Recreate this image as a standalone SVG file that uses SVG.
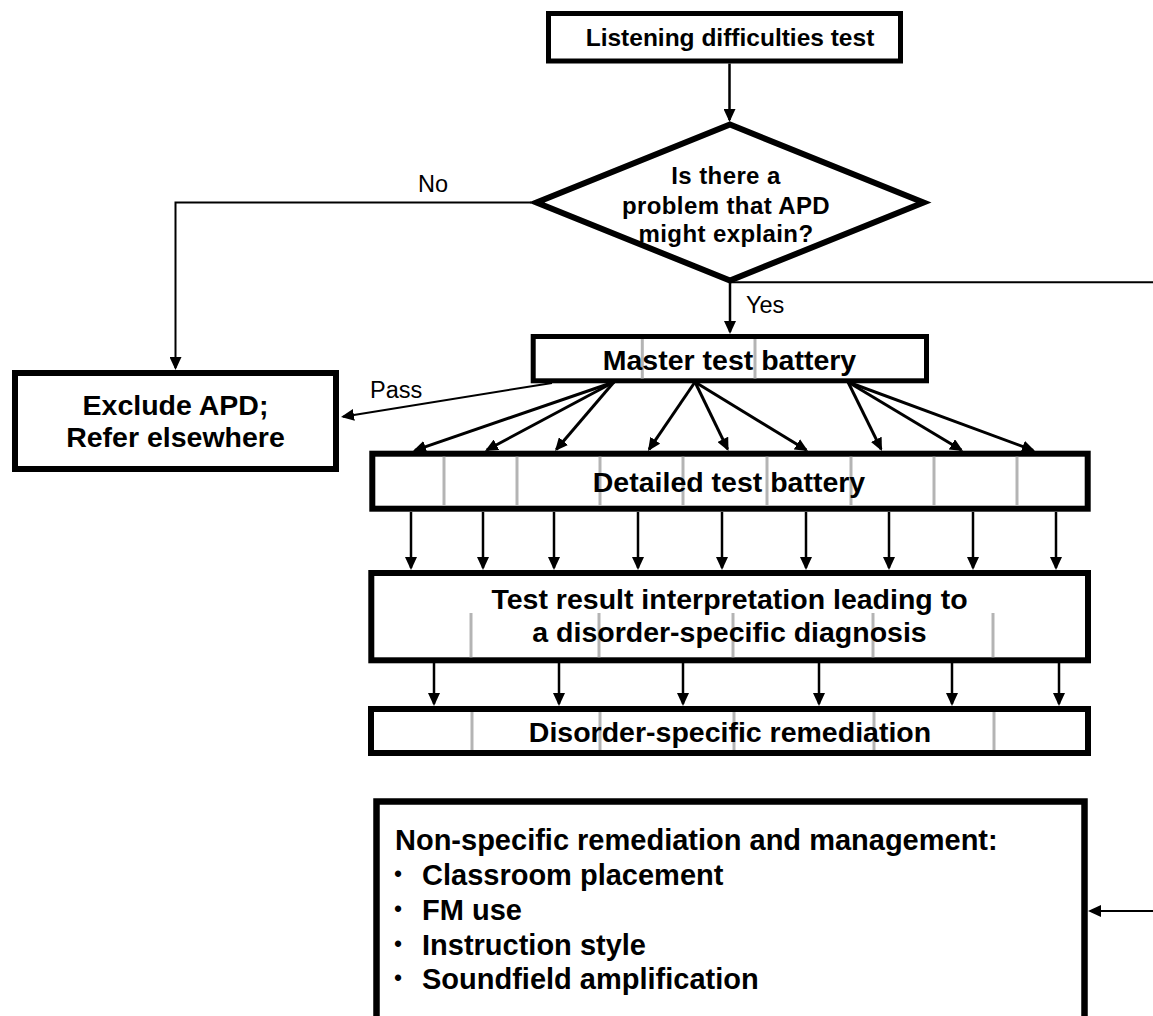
<svg xmlns="http://www.w3.org/2000/svg" width="1153" height="1016" viewBox="0 0 1153 1016">
<defs>
<marker id="ah" markerWidth="13" markerHeight="12" refX="11" refY="6" orient="auto" markerUnits="userSpaceOnUse"><path d="M0,0 L13,6 L0,12 Z" fill="#000"/></marker>
<style>
.box{fill:#fff;stroke:#000;stroke-width:6}
.div{stroke:#b4b4b4;stroke-width:3}
.c{fill:none;stroke:#000;stroke-width:2.5;marker-end:url(#ah)}
.c3{fill:none;stroke:#000;stroke-width:3;marker-end:url(#ah)}
.t{font-family:"Liberation Sans",Arial,sans-serif;font-weight:bold;fill:#000}
.bu{font-family:"Liberation Sans",Arial,sans-serif;font-size:23px;fill:#000}
.lb{font-family:"Liberation Sans",Arial,sans-serif;font-size:23.5px;fill:#000}
.m{text-anchor:middle}
</style>
</defs>
<rect width="1153" height="1016" fill="#fff"/>
<g id="connectors">
<path class="c" d="M729.5,63.5 V120"/>
<path class="c" style="stroke-width:2" d="M531,202.5 H175.5 V368"/>
<path class="c" d="M730,283 V332"/>
<path class="c" style="stroke-width:2" d="M730,282.3 H1156 V911 H1090"/>
<path class="c" style="stroke-width:2" d="M552,383 L343,416.7"/>
<path class="c3" d="M614,382 L414.9,450.3"/>
<path class="c3" d="M614,382 L486.8,450"/>
<path class="c3" d="M614,382 L556.3,449.5"/>
<path class="c3" d="M695,382 L649.1,449.3"/>
<path class="c3" d="M695,382 L727.6,449.2"/>
<path class="c3" d="M695,382 L806.3,450"/>
<path class="c3" d="M848,382 L881.1,449.2"/>
<path class="c3" d="M848,382 L961.3,450"/>
<path class="c3" d="M848,382 L1033.1,450.3"/>
<path class="c" d="M411,512 V568"/>
<path class="c" d="M483,512 V568"/>
<path class="c" d="M554,512 V568"/>
<path class="c" d="M638,512 V568"/>
<path class="c" d="M722,512 V568"/>
<path class="c" d="M806,512 V568"/>
<path class="c" d="M889,512 V568"/>
<path class="c" d="M973,512 V568"/>
<path class="c" d="M1056,512 V568"/>
<path class="c" d="M434,663 V704"/>
<path class="c" d="M559,663 V704"/>
<path class="c" d="M683,663 V704"/>
<path class="c" d="M819,663 V704"/>
<path class="c" d="M952,663 V704"/>
<path class="c" d="M1059,663 V704"/>
<text class="lb" x="418" y="192">No</text>
<text class="lb" x="746" y="313">Yes</text>
<text class="lb" x="370" y="398">Pass</text>
</g>
<g id="listening">
<rect class="box" style="stroke-width:5" x="548.5" y="13.5" width="352" height="47.5"/>
<text class="t m" x="730" y="45.5" font-size="24.5">Listening difficulties test</text>
</g>
<g id="decision">
<path class="box" d="M730,124.5 L923.5,202.5 L730,280.5 L536.5,202.5 Z"/>
<text class="t m" x="726" y="183.5" font-size="24" letter-spacing="0.4">Is there a</text>
<text class="t m" x="726" y="213.5" font-size="24" letter-spacing="0.4">problem that APD</text>
<text class="t m" x="726" y="242" font-size="24" letter-spacing="0.4">might explain?</text>
</g>
<g id="exclude">
<rect class="box" x="15" y="373" width="321" height="96"/>
<text class="t m" x="175.5" y="415" font-size="28.5">Exclude APD;</text>
<text class="t m" x="175.5" y="446.7" font-size="28.5">Refer elsewhere</text>
</g>
<g id="master">
<rect class="box" style="stroke-width:5" x="533.2" y="336.5" width="393.3" height="44.3"/>
<line class="div" x1="642.3" y1="339" x2="642.3" y2="378.5"/>
<line class="div" x1="755" y1="339" x2="755" y2="378.5"/>
<text class="t m" x="729.5" y="370" font-size="28.5">Master test battery</text>
</g>
<g id="detailed">
<rect class="box" x="372.3" y="453.7" width="715.4" height="55"/>
<line class="div" x1="444" y1="456.7" x2="444" y2="505.7"/>
<line class="div" x1="517" y1="456.7" x2="517" y2="505.7"/>
<line class="div" x1="600" y1="456.7" x2="600" y2="505.7"/>
<line class="div" x1="683" y1="456.7" x2="683" y2="505.7"/>
<line class="div" x1="767" y1="456.7" x2="767" y2="505.7"/>
<line class="div" x1="851" y1="456.7" x2="851" y2="505.7"/>
<line class="div" x1="934" y1="456.7" x2="934" y2="505.7"/>
<line class="div" x1="1017" y1="456.7" x2="1017" y2="505.7"/>
<text class="t m" x="729" y="491.7" font-size="28.5">Detailed test battery</text>
</g>
<g id="interpretation">
<rect class="box" x="371.3" y="573" width="716.7" height="87.3"/>
<line class="div" x1="471" y1="613" x2="471" y2="657.3"/>
<line class="div" x1="599" y1="613" x2="599" y2="657.3"/>
<line class="div" x1="733" y1="613" x2="733" y2="657.3"/>
<line class="div" x1="873" y1="613" x2="873" y2="657.3"/>
<line class="div" x1="993" y1="613" x2="993" y2="657.3"/>
<text class="t m" x="729.5" y="608.5" font-size="28.5">Test result interpretation leading to</text>
<text class="t m" x="729.5" y="642" font-size="28.5">a disorder-specific diagnosis</text>
</g>
<g id="remediation">
<rect class="box" x="371" y="709" width="717" height="44"/>
<line class="div" x1="472" y1="712" x2="472" y2="750"/>
<line class="div" x1="600" y1="712" x2="600" y2="750"/>
<line class="div" x1="734" y1="712" x2="734" y2="750"/>
<line class="div" x1="874" y1="712" x2="874" y2="750"/>
<line class="div" x1="994" y1="712" x2="994" y2="750"/>
<text class="t m" x="730" y="741.7" font-size="28.5">Disorder-specific remediation</text>
</g>
<g id="nonspecific">
<rect class="box" style="stroke-width:6.5" x="376.5" y="801.5" width="708" height="300"/>
<text class="t" x="395" y="850" font-size="29">Non-specific remediation and management:</text>
<text class="bu" x="394" y="882">•</text>
<text class="t" x="422" y="885" font-size="29">Classroom placement</text>
<text class="bu" x="394" y="917">•</text>
<text class="t" x="422" y="920" font-size="29">FM use</text>
<text class="bu" x="394" y="952">•</text>
<text class="t" x="422" y="955" font-size="29">Instruction style</text>
<text class="bu" x="394" y="986">•</text>
<text class="t" x="422" y="989" font-size="29">Soundfield amplification</text>
</g>
</svg>
